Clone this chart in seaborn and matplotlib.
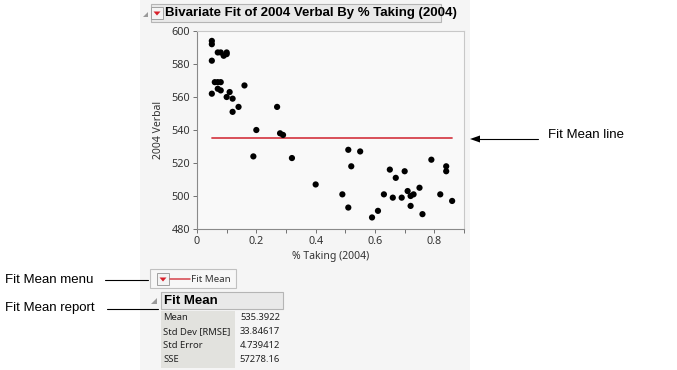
import numpy as np
import pandas as pd
import matplotlib.pyplot as plt
import seaborn as sns
from matplotlib.patches import Rectangle, Polygon

# data
pct_taking = [0.05, 0.05, 0.05, 0.07, 0.08, 0.10, 0.10, 0.09,
              0.06, 0.07, 0.08, 0.05, 0.07, 0.08, 0.11, 0.10, 0.12,
              0.16, 0.14, 0.12, 0.27, 0.20, 0.28, 0.29, 0.19, 0.32,
              0.51, 0.55, 0.52, 0.65, 0.67, 0.70, 0.79, 0.84, 0.84,
              0.49, 0.51, 0.59, 0.61, 0.63, 0.66, 0.69, 0.71, 0.72,
              0.73, 0.75, 0.72, 0.76, 0.82, 0.86, 0.40]
verbal_2004 = [594, 592, 582, 587, 587, 587, 586, 585,
               569, 569, 569, 562, 565, 564, 563, 560, 559,
               567, 554, 551, 554, 540, 538, 537, 524, 523,
               528, 527, 518, 516, 511, 515, 522, 518, 515,
               501, 493, 487, 491, 501, 499, 499, 503, 500,
               501, 505, 494, 489, 501, 497, 507]
report_labels = ['Mean', 'Std Dev [RMSE]', 'Std Error', 'SSE']
report_values = ['535.3922', '33.84617', '4.739412', '57278.16']

df = pd.DataFrame({'pct': pct_taking, 'verbal': verbal_2004})

sns.set_style('white')
plt.rcParams['font.family'] = ['Noto Sans', 'DejaVu Sans']

W, H = 677, 370
fig = plt.figure(figsize=(W / 100, H / 100), dpi=100)
fig.patch.set_facecolor('white')

# helper: pixel coords -> figure fraction
def fx(x):
    return x / W

def fy(y):
    return 1 - y / H

bold_font = ['Liberation Sans', 'DejaVu Sans']

# JMP report background
fig.patches.append(Rectangle((fx(140), 0), fx(470) - fx(140), 1, transform=fig.transFigure,
                             facecolor='#f5f5f5', edgecolor='none', zorder=-5))

# title bar
fig.patches.append(Rectangle((fx(151), fy(22)), fx(441) - fx(151), fy(4) - fy(22),
                             transform=fig.transFigure, facecolor='#e9e9e9',
                             edgecolor='#b5b5b5', lw=0.8, zorder=1))
fig.patches.append(Polygon([(fx(143), fy(17)), (fx(148), fy(17)), (fx(148), fy(12))],
                           closed=True, transform=fig.transFigure, facecolor='#9a9a9a',
                           edgecolor='none', zorder=2))


def red_button(x, y):
    fig.patches.append(Rectangle((fx(x - 6), fy(y + 6)), fx(12), 12 / H, transform=fig.transFigure,
                                 facecolor='#f4f4f4', edgecolor='#a0a0a0', lw=0.7, zorder=2))
    fig.patches.append(Polygon([(fx(x - 3.5), fy(y - 1.5)), (fx(x + 3.5), fy(y - 1.5)), (fx(x), fy(y + 2.5))],
                               closed=True, transform=fig.transFigure, facecolor='#d8202a',
                               edgecolor='none', zorder=3))


red_button(157, 13)
fig.text(fx(165), fy(13), 'Bivariate Fit of 2004 Verbal By % Taking (2004)', fontsize=9.5,
         family=bold_font, fontweight='bold', va='center', ha='left', color='black')

# main plot
ax = fig.add_axes([fx(197), fy(229), fx(464) - fx(197), fy(31) - fy(229)])
ax.set_zorder(5)
ax.set_facecolor('#f9f9f9')
sns.scatterplot(data=df, x='pct', y='verbal', ax=ax, color='black', s=20,
                edgecolor='none', zorder=3)
mean_val = df['verbal'].mean()
sns.lineplot(x=[df['pct'].min(), df['pct'].max()], y=[mean_val, mean_val], ax=ax,
             color='#d6424c', lw=1.3, zorder=2)
ax.set_xlim(0, 0.9)
ax.set_ylim(480, 600)
ax.set_xticks(np.arange(0, 0.81, 0.2))
ax.set_xticklabels(['0', '0.2', '0.4', '0.6', '0.8'])
ax.set_xticks(np.arange(0.1, 0.91, 0.2), minor=True)
ax.set_yticks(np.arange(480, 601, 20))
ax.tick_params(axis='both', which='both', direction='out', length=3, width=0.7,
               color='#707070', labelsize=7.8, labelcolor='#333333', pad=2,
               bottom=True, left=True)
ax.set_xlabel('% Taking (2004)', fontsize=7.5, color='#333333', labelpad=3)
ax.set_ylabel('2004 Verbal', fontsize=7.5, color='#333333', labelpad=5)
for side in ['left', 'bottom']:
    ax.spines[side].set_color('#8a8a8a')
    ax.spines[side].set_linewidth(0.8)
for side in ['top', 'right']:
    ax.spines[side].set_color('#c8c8c8')
    ax.spines[side].set_linewidth(0.8)

# Fit Mean menu box
fig.patches.append(Rectangle((fx(150), fy(288)), fx(236) - fx(150), fy(269) - fy(288),
                             transform=fig.transFigure, facecolor='#f7f7f7',
                             edgecolor='#c0c0c0', lw=0.8, zorder=1))
red_button(163, 279)
fig.lines.append(plt.Line2D([fx(170), fx(190)], [fy(279), fy(279)], transform=fig.transFigure,
                            color='#d6424c', lw=1.1, zorder=3))
fig.text(fx(191), fy(279), 'Fit Mean', fontsize=7, va='center', ha='left', color='#333333')

# Fit Mean report
fig.patches.append(Polygon([(fx(151), fy(304)), (fx(157), fy(304)), (fx(157), fy(298))],
                           closed=True, transform=fig.transFigure, facecolor='#9a9a9a',
                           edgecolor='none', zorder=2))
fig.patches.append(Rectangle((fx(161), fy(309)), fx(283) - fx(161), fy(292) - fy(309),
                             transform=fig.transFigure, facecolor='#e9e9e9',
                             edgecolor='#b5b5b5', lw=0.8, zorder=1))
fig.text(fx(164), fy(300.5), 'Fit Mean', fontsize=9.5, family=bold_font, fontweight='bold',
         va='center', ha='left', color='black')
fig.patches.append(Rectangle((fx(161), fy(368)), fx(235) - fx(161), fy(311) - fy(368),
                             transform=fig.transFigure, facecolor='#e2e2de',
                             edgecolor='none', zorder=1))
for i, (lab, val) in enumerate(zip(report_labels, report_values)):
    yy = 318 + i * 14
    fig.text(fx(163), fy(yy), lab, fontsize=6.8, va='center', ha='left', color='#222222')
    fig.text(fx(280), fy(yy), val, fontsize=6.8, va='center', ha='right', color='#222222')

# annotations outside the report
ann_font = dict(family=['Liberation Sans', 'DejaVu Sans'], fontsize=9.5, color='black')
fig.text(fx(5), fy(280), 'Fit Mean menu', va='center', ha='left', **ann_font)
fig.lines.append(plt.Line2D([fx(105), fx(148)], [fy(280), fy(280)], transform=fig.transFigure,
                            color='black', lw=0.8))
fig.text(fx(5), fy(308), 'Fit Mean report', va='center', ha='left', **ann_font)
fig.lines.append(plt.Line2D([fx(107), fx(158)], [fy(309), fy(309)], transform=fig.transFigure,
                            color='black', lw=0.8))
fig.text(fx(548), fy(135), 'Fit Mean line', va='center', ha='left', **ann_font)
fig.add_artist(plt.Line2D([fx(478), fx(538)], [fy(139), fy(139)], transform=fig.transFigure,
                          color='black', lw=0.8))
fig.patches.append(Polygon([(fx(470), fy(139)), (fx(480), fy(135.5)), (fx(480), fy(142.5))],
                           closed=True, transform=fig.transFigure, facecolor='black',
                           edgecolor='none'))

fig.savefig('out.png', dpi=100)
